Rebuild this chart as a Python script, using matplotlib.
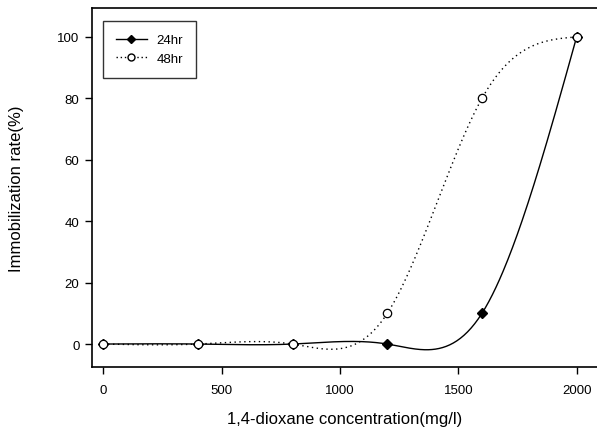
import matplotlib
matplotlib.use("Agg")
import matplotlib.pyplot as plt
import numpy as np
from matplotlib.lines import Line2D

plt.rcParams["font.family"] = ["Liberation Sans", "DejaVu Sans"]

conc = [0, 400, 800, 1200, 1600, 2000]
rate_24hr = [0, 0, 0, 0, 10, 100]
rate_48hr = [0, 0, 0, 10, 80, 100]


def natural_spline(x, y, n=400):
    """自然三次样条，模仿 SigmaPlot 的 spline curve。"""
    x = np.asarray(x, float)
    y = np.asarray(y, float)
    h = np.diff(x)
    m = len(x)
    a = np.zeros((m, m))
    b = np.zeros(m)
    a[0, 0] = a[-1, -1] = 1.0
    for i in range(1, m - 1):
        a[i, i - 1] = h[i - 1]
        a[i, i] = 2 * (h[i - 1] + h[i])
        a[i, i + 1] = h[i]
        b[i] = 6 * ((y[i + 1] - y[i]) / h[i] - (y[i] - y[i - 1]) / h[i - 1])
    M = np.linalg.solve(a, b)
    xs = np.linspace(x[0], x[-1], n)
    idx = np.clip(np.searchsorted(x, xs) - 1, 0, m - 2)
    x0, x1 = x[idx], x[idx + 1]
    hh = x1 - x0
    ys = (M[idx] * (x1 - xs) ** 3 / (6 * hh) + M[idx + 1] * (xs - x0) ** 3 / (6 * hh)
          + (y[idx] / hh - M[idx] * hh / 6) * (x1 - xs)
          + (y[idx + 1] / hh - M[idx + 1] * hh / 6) * (xs - x0))
    return xs, ys


fig = plt.figure(figsize=(5.97, 4.31), dpi=100)
ax = fig.add_axes([0.154, 0.146, 0.846, 0.833])

xs, ys = natural_spline(conc, rate_24hr)
ax.plot(xs, ys, color="black", lw=1.0, ls="-", zorder=2)
xs, ys = natural_spline(conc, rate_48hr)
ax.plot(xs, ys, color="black", lw=1.0, ls=(0, (1, 2.5)), zorder=2)

ax.plot(conc, rate_24hr, ls="none", marker="D", ms=5.5, mfc="black", mec="black", zorder=3)
ax.plot(conc, rate_48hr, ls="none", marker="o", ms=6, mfc="white", mec="black", mew=0.9, zorder=4)

ax.set_xlim(-48, 2086)
ax.set_ylim(-7.5, 109.4)
ax.set_xticks([0, 500, 1000, 1500, 2000])
ax.set_yticks([0, 20, 40, 60, 80, 100])
ax.tick_params(direction="out", length=5, width=1, labelsize=9.5)
ax.tick_params(axis="x", pad=7)
ax.tick_params(axis="y", pad=4)
ax.spines["right"].set_visible(False)
for s in ("left", "bottom", "top"):
    ax.spines[s].set_linewidth(1.2)

ax.set_xlabel("1,4-dioxane concentration(mg/l)", fontsize=12, labelpad=11)
ax.set_ylabel("Immobilization rate(%)", fontsize=12, labelpad=24)

handles = [
    Line2D([], [], color="black", lw=1.0, ls="-", marker="D", ms=4.5, mfc="black", mec="black"),
    Line2D([], [], color="black", lw=1.0, ls=(0, (1, 2.0)), marker="o", ms=5, mfc="white", mec="black"),
]
leg = ax.legend(handles, ["24hr", "48hr"], loc="upper left", bbox_to_anchor=(0.022, 0.964),
                fontsize=9.5, frameon=True, fancybox=False, edgecolor="black",
                handlelength=2.3, handletextpad=0.75, labelspacing=0.45, borderpad=1.0,
                borderaxespad=0)
leg.get_frame().set_linewidth(1.0)

fig.savefig("out.png", dpi=100)
